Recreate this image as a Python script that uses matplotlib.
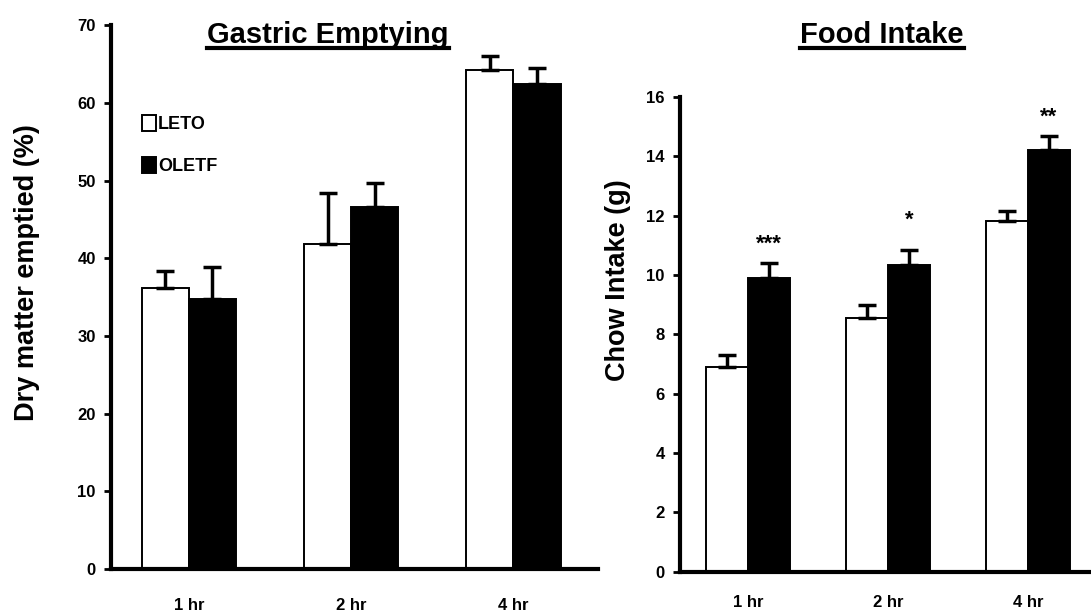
import numpy as np
import matplotlib.pyplot as plt
from matplotlib.lines import Line2D

plt.rcParams['font.family'] = ['Liberation Sans', 'DejaVu Sans']
plt.rcParams['font.weight'] = 'bold'

groups = ['1 hr', '2 hr', '4 hr']

# gastric emptying, % dry matter emptied
ge_leto = [36.2, 41.8, 64.3]
ge_leto_err = [2.1, 6.6, 1.8]
ge_oletf = [34.7, 46.6, 62.5]
ge_oletf_err = [4.2, 3.1, 2.0]

# food intake, chow (g)
fi_leto = [6.9, 8.55, 11.8]
fi_leto_err = [0.4, 0.45, 0.35]
fi_oletf = [9.9, 10.35, 14.2]
fi_oletf_err = [0.5, 0.5, 0.47]
fi_stars = ['***', '*', '**']
fi_star_y = [11.05, 11.85, 15.3]

fig = plt.figure(figsize=(10.91, 6.13), dpi=100)
ax1 = fig.add_axes([0.1017, 0.0718, 0.4463, 0.887])
ax2 = fig.add_axes([0.6233, 0.0674, 0.3767, 0.7746])

w = 0.29
x = np.arange(len(groups))


def draw_bars(ax, leto, leto_err, oletf, oletf_err, width, xpad):
    b1 = ax.bar(x - width / 2, leto, width, color='white', edgecolor='black',
                linewidth=1.4, label='LETO', zorder=2)
    b2 = ax.bar(x + width / 2, oletf, width, color='black', edgecolor='black',
                linewidth=1.4, label='OLETF', zorder=2)
    for xs, vals, errs in [(x - width / 2, leto, leto_err), (x + width / 2, oletf, oletf_err)]:
        ax.errorbar(xs, vals, yerr=[np.zeros(len(errs)), errs], fmt='none',
                    ecolor='black', elinewidth=2.5, capsize=6.5, capthick=2.5, zorder=3)
    for s in ['top', 'right']:
        ax.spines[s].set_visible(False)
    for s in ['left', 'bottom']:
        ax.spines[s].set_linewidth(3)
    ax.tick_params(axis='x', length=0, pad=xpad, labelsize=12)
    ax.tick_params(axis='y', length=5, width=2, direction='out', labelsize=12, pad=6)
    ax.set_xticks(x)
    ax.set_xticklabels(groups, fontweight='heavy')
    for lab in ax.get_yticklabels():
        lab.set_fontweight('heavy')
    return b1, b2


b1, b2 = draw_bars(ax1, ge_leto, ge_leto_err, ge_oletf, ge_oletf_err, w, 21)
ax1.set_xlim(-0.48, 2.52)
ax1.set_ylim(0, 70)
ax1.set_yticks(range(0, 71, 10))
ax1.legend(handles=[b1, b2], loc='upper left', bbox_to_anchor=(0.03, 0.865),
           frameon=False, handlelength=0.8, handleheight=1.0, handletextpad=0.1,
           labelspacing=1.3, prop={'weight': 'bold', 'size': 13})

w2 = 0.3
draw_bars(ax2, fi_leto, fi_leto_err, fi_oletf, fi_oletf_err, w2, 17)
ax2.set_xlim(-0.486, 2.45)
ax2.set_ylim(0, 16)
ax2.set_yticks(range(0, 17, 2))
for xi, s, yv in zip(x, fi_stars, fi_star_y):
    ax2.text(xi + w2 / 2, yv, s, ha='center', va='center', fontsize=16, fontweight='bold')

fig.text(0.025, 0.555, 'Dry matter emptied (%)', rotation=90, ha='center', va='center',
         fontsize=19.5, fontweight='bold')
fig.text(0.566, 0.543, 'Chow Intake (g)', rotation=90, ha='center', va='center',
         fontsize=19.5, fontweight='bold')

t1 = fig.text(0.3005, 0.943, 'Gastric Emptying', ha='center', va='center',
              fontsize=21, fontweight='bold')
t2 = fig.text(0.8085, 0.943, 'Food Intake', ha='center', va='center',
              fontsize=21, fontweight='bold')

# underline the panel titles
fig.canvas.draw()
r = fig.canvas.get_renderer()
for t in [t1, t2]:
    bb = t.get_window_extent(r).transformed(fig.transFigure.inverted())
    fig.add_artist(Line2D([bb.x0, bb.x1], [bb.y0 + 0.001, bb.y0 + 0.001],
                          transform=fig.transFigure, color='black', linewidth=3))

fig.savefig('out.png', dpi=100)
